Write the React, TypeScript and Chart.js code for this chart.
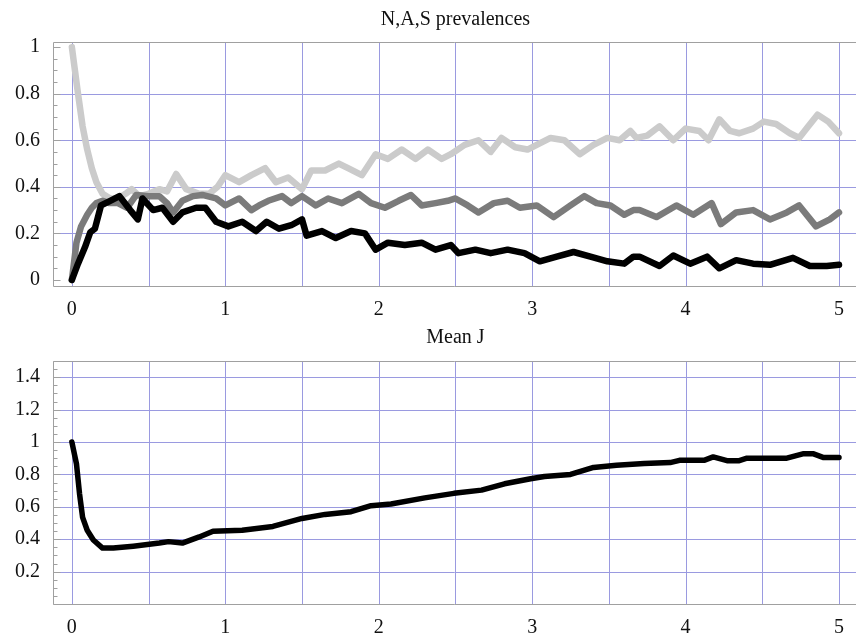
import React, { useEffect, useRef } from "react";
import { Chart, registerables } from "chart.js";
Chart.register(...registerables);

// ---------- Data ----------
const topTitle = "N,A,S prevalences";
const bottomTitle = "Mean J";

// S (light gray)
const sX = [0, 0.02, 0.04, 0.07, 0.1, 0.13, 0.16, 0.2, 0.25, 0.3, 0.35, 0.39, 0.44, 0.5, 0.57, 0.62, 0.68, 0.745, 0.83, 0.895, 0.95, 1.0, 1.09, 1.17, 1.26, 1.33, 1.41, 1.5, 1.56, 1.65, 1.74, 1.8, 1.89, 1.98, 2.06, 2.15, 2.24, 2.32, 2.41, 2.47, 2.56, 2.65, 2.73, 2.8, 2.89, 2.97, 3.03, 3.12, 3.21, 3.31, 3.4, 3.49, 3.57, 3.64, 3.68, 3.75, 3.83, 3.92, 4.0, 4.09, 4.15, 4.22, 4.29, 4.35, 4.44, 4.51, 4.59, 4.68, 4.74, 4.8, 4.86, 4.93, 5.0];
const sY = [1.0, 0.9, 0.8, 0.66, 0.56, 0.48, 0.42, 0.37, 0.35, 0.35, 0.37, 0.39, 0.36, 0.37, 0.39, 0.38, 0.455, 0.39, 0.37, 0.37, 0.4, 0.45, 0.42, 0.45, 0.48, 0.42, 0.44, 0.39, 0.47, 0.47, 0.5, 0.48, 0.45, 0.54, 0.52, 0.56, 0.52, 0.56, 0.52, 0.54, 0.58, 0.6, 0.55, 0.61, 0.57, 0.56, 0.58, 0.61, 0.6, 0.54, 0.58, 0.61, 0.6, 0.64, 0.61, 0.62, 0.66, 0.6, 0.65, 0.64, 0.6, 0.69, 0.64, 0.63, 0.65, 0.68, 0.67, 0.63, 0.61, 0.66, 0.71, 0.68, 0.63];

// A (mid gray)
const aX = [0, 0.015, 0.03, 0.06, 0.1, 0.13, 0.16, 0.2, 0.246, 0.3, 0.36, 0.42, 0.5, 0.57, 0.62, 0.66, 0.72, 0.79, 0.85, 0.94, 1.0, 1.09, 1.17, 1.22, 1.28, 1.37, 1.43, 1.5, 1.59, 1.67, 1.76, 1.87, 1.95, 2.04, 2.13, 2.21, 2.28, 2.37, 2.45, 2.5, 2.58, 2.65, 2.75, 2.84, 2.92, 3.03, 3.14, 3.25, 3.34, 3.42, 3.51, 3.6, 3.66, 3.7, 3.81, 3.94, 4.05, 4.17, 4.23, 4.33, 4.44, 4.55, 4.66, 4.74, 4.85, 4.94, 5.0];
const aY = [0, 0.08, 0.16, 0.23, 0.28, 0.31, 0.33, 0.34, 0.33, 0.33, 0.31, 0.365, 0.36, 0.36, 0.33, 0.29, 0.34, 0.36, 0.365, 0.35, 0.32, 0.35, 0.3, 0.32, 0.34, 0.36, 0.33, 0.36, 0.32, 0.35, 0.33, 0.37, 0.33, 0.31, 0.34, 0.365, 0.32, 0.33, 0.34, 0.35, 0.32, 0.29, 0.33, 0.34, 0.31, 0.32, 0.27, 0.32, 0.36, 0.33, 0.32, 0.28, 0.3, 0.3, 0.27, 0.32, 0.28, 0.33, 0.24, 0.29, 0.3, 0.26, 0.29, 0.32, 0.23, 0.26, 0.29];

// N (black)
const nX = [0, 0.04, 0.085, 0.12, 0.15, 0.17, 0.19, 0.25, 0.31, 0.38, 0.43, 0.46, 0.53, 0.59, 0.66, 0.72, 0.81, 0.87, 0.94, 1.02, 1.11, 1.2, 1.27, 1.35, 1.43, 1.5, 1.53, 1.63, 1.72, 1.82, 1.91, 1.98, 2.06, 2.17, 2.28, 2.37, 2.47, 2.52, 2.63, 2.73, 2.84, 2.95, 3.05, 3.16, 3.27, 3.38, 3.49, 3.6, 3.66, 3.7, 3.83, 3.92, 4.03, 4.14, 4.22, 4.33, 4.44, 4.55, 4.7, 4.81, 4.92, 5.0];
const nY = [0, 0.07, 0.14, 0.205, 0.22, 0.27, 0.32, 0.34, 0.36, 0.3, 0.26, 0.35, 0.3, 0.31, 0.25, 0.29, 0.31, 0.31, 0.25, 0.23, 0.25, 0.21, 0.25, 0.22, 0.235, 0.26, 0.19, 0.21, 0.18, 0.21, 0.2, 0.13, 0.16, 0.15, 0.16, 0.13, 0.15, 0.115, 0.13, 0.115, 0.13, 0.115, 0.08, 0.1, 0.12, 0.1, 0.08, 0.07, 0.1, 0.1, 0.06, 0.105, 0.07, 0.1, 0.05, 0.085, 0.07, 0.065, 0.095, 0.06, 0.06, 0.065];

// Mean J
const jX = [0, 0.03, 0.05, 0.07, 0.1, 0.14, 0.2, 0.27, 0.4, 0.57, 0.63, 0.72, 0.83, 0.92, 1.11, 1.31, 1.5, 1.65, 1.82, 1.95, 2.08, 2.3, 2.49, 2.67, 2.82, 2.99, 3.08, 3.25, 3.4, 3.55, 3.73, 3.9, 3.96, 4.12, 4.18, 4.27, 4.35, 4.4, 4.66, 4.77, 4.83, 4.9, 5.0];
const jY = [1.0, 0.865, 0.68, 0.535, 0.455, 0.395, 0.345, 0.345, 0.357, 0.376, 0.385, 0.376, 0.414, 0.449, 0.455, 0.479, 0.528, 0.553, 0.57, 0.607, 0.617, 0.655, 0.683, 0.703, 0.742, 0.773, 0.787, 0.8, 0.843, 0.857, 0.867, 0.873, 0.887, 0.887, 0.908, 0.885, 0.885, 0.9, 0.9, 0.928, 0.928, 0.904, 0.904];

const xTicks = [0, 0.5, 1, 1.5, 2, 2.5, 3, 3.5, 4, 4.5, 5];
const topYTicks = [0, 0.2, 0.4, 0.6, 0.8, 1];
const topYGrid = [0.2, 0.4, 0.6, 0.8];
const bottomYTicks = [0.2, 0.4, 0.6, 0.8, 1, 1.2, 1.4];
const bottomYGrid = [0.2, 0.4, 0.6, 0.8, 1, 1.2, 1.4];

// ---------- Styling ----------
const FONT = "'Liberation Serif', 'Times New Roman', serif";
const GRID = "#9a9ae0";
const FRAME = "#a0a0a0";
const W = 856;

const pts = (xs: number[], ys: number[]) => xs.map((x, i) => ({ x, y: ys[i] }));

const framePlugin = {
  id: "frame",
  beforeDatasetsDraw(chart: any, _args: any, opts: any) {
    const { ctx, chartArea } = chart;
    const xs = chart.scales.x;
    const ys = chart.scales.y;
    ctx.save();
    // grid
    ctx.strokeStyle = GRID;
    ctx.lineWidth = 1;
    ctx.beginPath();
    for (const v of xTicks) {
      const px = Math.round(xs.getPixelForValue(v)) + 0.5;
      ctx.moveTo(px, chartArea.top);
      ctx.lineTo(px, chartArea.bottom);
    }
    for (const v of opts.yGrid as number[]) {
      const py = Math.round(ys.getPixelForValue(v)) + 0.5;
      ctx.moveTo(chartArea.left, py);
      ctx.lineTo(W, py);
    }
    ctx.stroke();
    // frame
    ctx.strokeStyle = FRAME;
    ctx.beginPath();
    const l = Math.round(chartArea.left) + 0.5;
    const t = Math.round(chartArea.top) + 0.5;
    const b = Math.round(chartArea.bottom) + 0.5;
    ctx.moveTo(W, t);
    ctx.lineTo(l, t);
    ctx.lineTo(l, b);
    ctx.lineTo(W, b);
    // minor ticks on left axis
    const step = opts.minorStep;
    for (let k = 0; k * step <= ys.max + 1e-9; k++) {
      const v = k * step;
      if (v < ys.min) continue;
      const py = Math.round(ys.getPixelForValue(v)) + 0.5;
      const major = Math.abs(v / 0.2 - Math.round(v / 0.2)) < 1e-6;
      ctx.moveTo(l, py);
      ctx.lineTo(l + (major ? 7 : 4), py);
    }
    ctx.stroke();
    ctx.restore();
  },
  afterDraw(chart: any, _args: any, opts: any) {
    const { ctx, chartArea } = chart;
    ctx.save();
    ctx.fillStyle = "#111";
    ctx.font = `20px ${FONT}`;
    ctx.textAlign = "center";
    ctx.textBaseline = "alphabetic";
    ctx.fillText(opts.title, (chartArea.left + chartArea.right) / 2 + 3, opts.titleY);
    ctx.restore();
  },
};

function makeConfig(
  datasets: any[],
  yMin: number,
  yMax: number,
  yTicks: number[],
  yGrid: number[],
  top: number,
  bottomAxisH: number,
  title: string,
  titleY: number
) {
  return {
    type: "line",
    data: { datasets },
    plugins: [framePlugin],
    options: {
      animation: false,
      responsive: false,
      devicePixelRatio: 1,
      layout: { padding: { top, left: 0, right: 0, bottom: 0 } },
      plugins: {
        legend: { display: false },
        tooltip: { enabled: false },
        title: { display: false },
        frame: { title, titleY, minorStep: 0.05, yGrid },
      },
      elements: { point: { radius: 0 } },
      scales: {
        x: {
          type: "linear",
          min: -0.123,
          max: 5.084,
          afterBuildTicks: (s: any) => {
            s.ticks = xTicks.map((v) => ({ value: v }));
          },
          afterFit: (s: any) => {
            s.height = bottomAxisH;
          },
          ticks: {
            autoSkip: false,
            maxRotation: 0,
            padding: 12,
            color: "#111",
            font: { family: FONT, size: 20 },
            callback: (v: any) => (Number.isInteger(v) ? String(v) : ""),
          },
          grid: { display: false, drawTicks: false },
          border: { display: false },
        },
        y: {
          type: "linear",
          min: yMin,
          max: yMax,
          afterBuildTicks: (s: any) => {
            s.ticks = yTicks.map((v) => ({ value: v }));
          },
          afterFit: (s: any) => {
            s.width = 53;
          },
          ticks: {
            autoSkip: false,
            padding: 13,
            color: "#111",
            font: { family: FONT, size: 20 },
            callback: (v: any) => String(v),
          },
          grid: { display: false, drawTicks: false },
          border: { display: false },
        },
      },
    },
  };
}

const lineStyle = (color: string, width: number) => ({
  borderColor: color,
  backgroundColor: color,
  borderWidth: width,
  borderJoinStyle: "round",
  borderCapStyle: "round",
  tension: 0,
  fill: false,
  pointRadius: 0,
});

export default function App() {
  const topRef = useRef<HTMLCanvasElement | null>(null);
  const botRef = useRef<HTMLCanvasElement | null>(null);

  useEffect(() => {
    document.body.style.margin = "0";
    const topChart = new Chart(
      topRef.current as HTMLCanvasElement,
      makeConfig(
        [
          { label: "N", data: pts(nX, nY), ...lineStyle("#000000", 6.5) },
          { label: "A", data: pts(aX, aY), ...lineStyle("#7b7b7b", 6.5) },
          { label: "S", data: pts(sX, sY), ...lineStyle("#cbcbcb", 6.5) },
        ],
        -0.026,
        1.022,
        topYTicks,
        topYGrid,
        42,
        34,
        topTitle,
        25
      ) as any
    );
    const botChart = new Chart(
      botRef.current as HTMLCanvasElement,
      makeConfig(
        [{ label: "Mean J", data: pts(jX, jY), ...lineStyle("#000000", 5.5) }],
        0,
        1.5,
        bottomYTicks,
        bottomYGrid,
        41,
        38,
        bottomTitle,
        23
      ) as any
    );
    return () => {
      topChart.destroy();
      botChart.destroy();
    };
  }, []);

  return (
    <div style={{ position: "fixed", left: 0, top: 0, width: W, height: 642, background: "#fff" }}>
      <canvas ref={topRef} width={W} height={320} style={{ position: "absolute", left: 0, top: 0, width: W, height: 320 }} />
      <canvas ref={botRef} width={W} height={322} style={{ position: "absolute", left: 0, top: 320, width: W, height: 322 }} />
    </div>
  );
}
